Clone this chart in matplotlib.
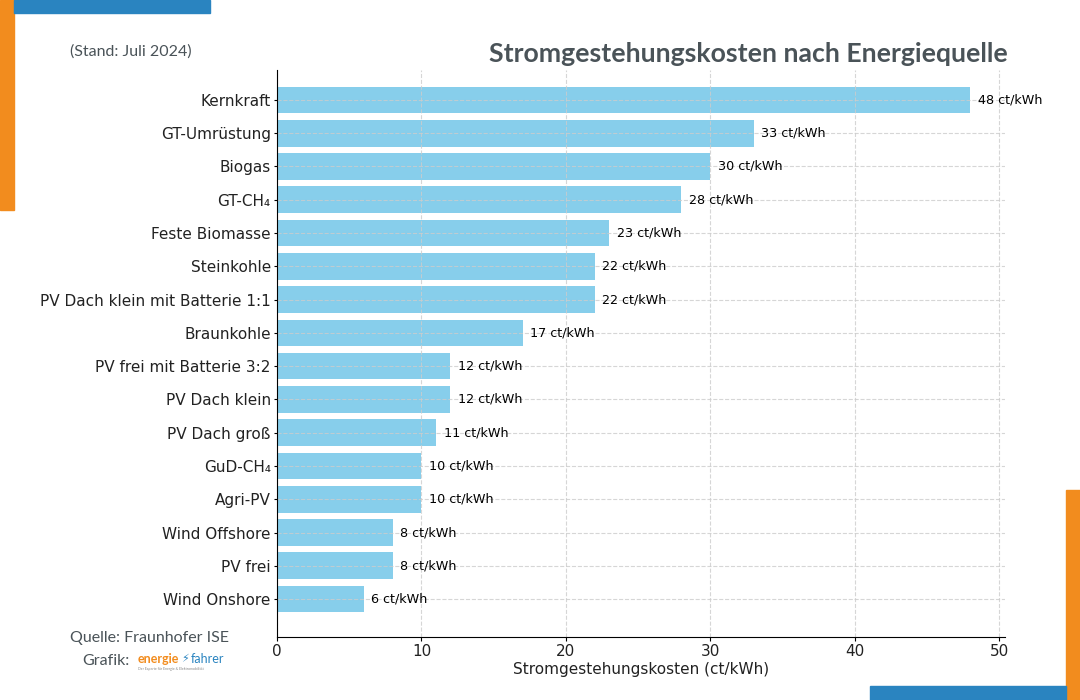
# Stromgestehungskosten nach Energiequelle - horizontal bar chart

import matplotlib
matplotlib.use('Agg')
import matplotlib.pyplot as plt
from matplotlib.patches import Rectangle

energy_sources = ['Kernkraft', 'GT-Umrüstung', 'Biogas', 'GT-CH\u2084', 'Feste Biomasse',
                  'Steinkohle', 'PV Dach klein mit Batterie 1:1', 'Braunkohle',
                  'PV frei mit Batterie 3:2', 'PV Dach klein', 'PV Dach groß', 'GuD-CH\u2084',
                  'Agri-PV', 'Wind Offshore', 'PV frei', 'Wind Onshore']
costs = [48, 33, 30, 28, 23, 22, 22, 17, 12, 12, 11, 10, 10, 8, 8, 6]  # ct/kWh
x_ticks = [0, 10, 20, 30, 40, 50]

bar_color = 'skyblue'
orange = '#F28C1E'
blue = '#2A84C0'
grey_text = '#4a5358'

fig = plt.figure(figsize=(10.8, 7), dpi=100)
ax = fig.add_axes([277 / 1080, 1 - 637 / 700, (1005 - 277) / 1080, (637 - 70) / 700])

positions = list(range(len(energy_sources)))
bars = ax.barh(positions, costs, height=0.8, color=bar_color, zorder=2)
ax.set_ylim(len(energy_sources) - 1 + 1.14, -0.9)
ax.set_yticks(positions)
ax.set_yticklabels(energy_sources, fontsize=11, color='#222222')
ax.set_xticks(x_ticks)
ax.tick_params(axis='x', labelsize=11, length=3, pad=2, labelcolor='#222222')
ax.tick_params(axis='y', length=2.5, pad=2)
ax.set_xlabel('Stromgestehungskosten (ct/kWh)', fontsize=11, labelpad=2, color='#222222')

for bar, value in zip(bars, costs):
    ax.annotate(f'{value} ct/kWh', (bar.get_width(), bar.get_y() + bar.get_height() / 2),
                xytext=(5.5, 0), textcoords='offset points', va='center', ha='left',
                fontsize=9.2, zorder=4)

ax.grid(True, linestyle='--', color='#cccccc', linewidth=0.8, alpha=0.8, zorder=3)
ax.set_axisbelow(False)
for side in ['top', 'right']:
    ax.spines[side].set_visible(False)
for side in ['left', 'bottom']:
    ax.spines[side].set_zorder(5)

# frame decorations
fig.patches.append(Rectangle((0, 1 - 210 / 700), 14 / 1080, 210 / 700,
                             transform=fig.transFigure, color=orange, zorder=0))
fig.patches.append(Rectangle((14 / 1080, 1 - 13 / 700), 196 / 1080, 13 / 700,
                             transform=fig.transFigure, color=blue, zorder=0))
fig.patches.append(Rectangle((1066 / 1080, 0), 14 / 1080, 210 / 700,
                             transform=fig.transFigure, color=orange, zorder=0))
fig.patches.append(Rectangle((870 / 1080, 0), 196 / 1080, 14 / 700,
                             transform=fig.transFigure, color=blue, zorder=0))

fig.text(1008 / 1080, 1 - 54 / 700, 'Stromgestehungskosten nach Energiequelle',
         ha='right', va='center', fontsize=19.2, fontweight='bold', family='Lato',
         color=grey_text)
fig.text(70 / 1080, 1 - 52 / 700, '(Stand: Juli 2024)', ha='left', va='center',
         fontsize=11.5, family='Lato', color=grey_text)
fig.text(70 / 1080, 1 - 638 / 700, 'Quelle: Fraunhofer ISE', ha='left', va='center',
         fontsize=11.5, family='Lato', color=grey_text)
fig.text(82 / 1080, 1 - 661 / 700, 'Grafik:', ha='left', va='center',
         fontsize=11.5, family='Lato', color=grey_text)
fig.text(138 / 1080, 1 - 659 / 700, 'energie', ha='left', va='center',
         fontsize=9, family='Lato', fontweight='bold', color=orange)
fig.text(181 / 1080, 1 - 659 / 700, '\u26a1', ha='left', va='center',
         fontsize=8, family='DejaVu Sans', color=blue)
fig.text(191 / 1080, 1 - 659 / 700, 'fahrer', ha='left', va='center',
         fontsize=9, family='Lato', color=blue)
fig.text(138 / 1080, 1 - 669 / 700, 'Der Experte für Energie & Elektromobilität', ha='left',
         va='center', fontsize=2.5, family='Lato', color='#888888')

fig.savefig('out.png', dpi=100)
